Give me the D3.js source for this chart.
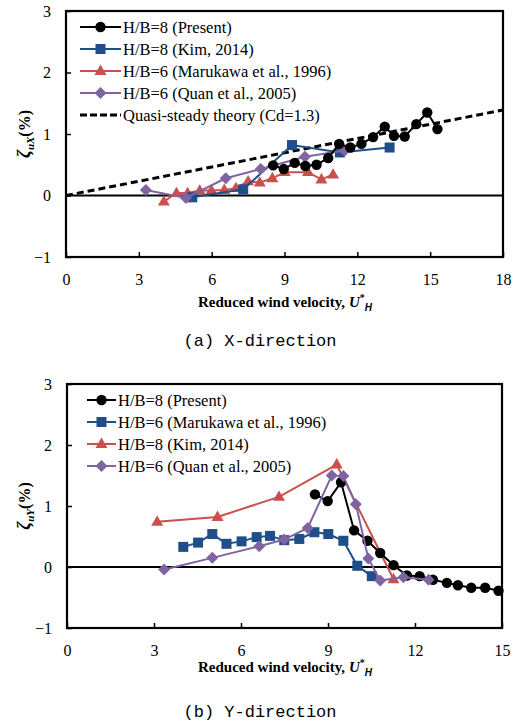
<!DOCTYPE html>
<html><head><meta charset="utf-8">
<script src="https://cdn.jsdelivr.net/npm/d3@7"></script>
<style>body{margin:0;background:#fff}svg{display:block}</style>
</head><body>
<svg id="c" width="520" height="725"></svg>
<script>
// ---------- DATA ----------
// Panel (a) X-direction
const xTicksA = [0,3,6,9,12,15,18];
const yTicks = [-1,0,1,2,3];
const aPresentX = [8.53,8.97,9.42,9.86,10.32,10.80,11.25,11.71,12.17,12.65,13.13,13.51,13.95,14.43,14.88,15.30];
const aPresentY = [0.49,0.43,0.53,0.48,0.50,0.61,0.84,0.78,0.84,0.95,1.12,0.97,0.96,1.16,1.35,1.08];
const aKimX = [5.20,7.30,9.31,11.28,13.33];
const aKimY = [-0.03,0.10,0.82,0.70,0.78];
const aMaruX = [4.03,4.55,5.01,5.51,5.99,6.52,7.00,7.50,7.98,8.50,9.01,9.97,10.52,11.00];
const aMaruY = [-0.10,0.04,0.04,0.08,0.08,0.09,0.12,0.23,0.21,0.28,0.38,0.38,0.26,0.34];
const aQuanX = [3.29,4.94,6.58,8.02,9.84,11.48];
const aQuanY = [0.09,-0.04,0.28,0.43,0.63,0.73];
const aQuasiX = [0,18];
const aQuasiY = [0,1.39];
// Panel (b) Y-direction
const xTicksB = [0,3,6,9,12,15];
const bPresentX = [8.55,8.99,9.45,9.90,10.36,10.80,11.26,11.72,12.16,12.62,13.10,13.48,13.94,14.42,14.88];
const bPresentY = [1.19,1.08,1.39,0.60,0.43,0.23,0.03,-0.14,-0.15,-0.21,-0.26,-0.30,-0.34,-0.34,-0.39];
const bMaruX = [4.01,4.52,5.01,5.50,6.02,6.54,7.00,7.49,8.01,8.53,9.01,9.53,10.01,10.51];
const bMaruY = [0.33,0.40,0.54,0.38,0.42,0.49,0.51,0.44,0.46,0.57,0.54,0.43,0.02,-0.15];
const bKimX = [3.11,5.19,7.31,9.30,11.26];
const bKimY = [0.74,0.82,1.15,1.68,-0.20];
const bQuanX = [3.35,5.01,6.63,7.49,8.30,9.13,9.53,9.96,10.39,10.80,11.60,12.47];
const bQuanY = [-0.04,0.15,0.34,0.45,0.64,1.50,1.49,1.03,0.14,-0.22,-0.17,-0.21];

const legendA = ["H/B=8 (Present)","H/B=8 (Kim, 2014)","H/B=6 (Marukawa et al., 1996)","H/B=6 (Quan et al., 2005)","Quasi-steady theory (Cd=1.3)"];
const legendB = ["H/B=8 (Present)","H/B=6 (Marukawa et al., 1996)","H/B=8 (Kim, 2014)","H/B=6 (Quan et al., 2005)"];

// ---------- STYLE ----------
const C = {black:"#000000", blue:"#1F4E8A", red:"#C9504D", purple:"#8064A2"};
const serif = "Liberation Serif, Times New Roman, serif";
const svg = d3.select("#c");

function zip(xs,ys){return xs.map((x,i)=>[x,ys[i]]);}

function marker(g, type, x, y, color){
  if(type==="circle"){ g.append("circle").attr("cx",x).attr("cy",y).attr("r",5.2).attr("fill",color); }
  else if(type==="square"){ g.append("rect").attr("x",x-5).attr("y",y-5).attr("width",10).attr("height",10).attr("fill",color); }
  else if(type==="triangle"){ g.append("path").attr("d",d3.symbol(d3.symbolTriangle,62)()).attr("transform",`translate(${x},${y+0.5})`).attr("fill",color); }
  else if(type==="diamond"){ g.append("path").attr("d",`M0,-6L6,0L0,6L-6,0Z`).attr("transform",`translate(${x},${y})`).attr("fill",color); }
}

function panel(cfg){
  const x = d3.scaleLinear().domain(cfg.xdom).range(cfg.xr);
  const y = d3.scaleLinear().domain([-1,3]).range(cfg.yr);
  const g = svg.append("g");
  const ax = g.append("g").attr("transform",`translate(0,${cfg.yr[0]})`)
    .call(d3.axisBottom(x).tickValues(cfg.xticks).tickSize(-5).tickPadding(17).tickFormat(d3.format("d")));
  ax.attr("font-family",serif).attr("font-size",16);
  ax.select(".domain").remove();
  ax.selectAll("line").attr("stroke","#000").attr("stroke-width",1.5);
  ax.selectAll("text").style("font-family",serif).attr("font-size",16).attr("fill","#000");
  const ay = g.append("g").attr("transform",`translate(${cfg.xr[0]},0)`)
    .call(d3.axisLeft(y).tickValues(yTicks).tickSize(-5).tickPadding(15).tickFormat(d3.format("d")));
  ay.attr("font-family",serif).attr("font-size",16);
  ay.select(".domain").remove();
  ay.selectAll("line").attr("stroke","#000").attr("stroke-width",1.5);
  ay.selectAll("text").style("font-family",serif).attr("font-size",16).attr("fill","#000");
  g.append("line").attr("x1",cfg.xr[0]).attr("x2",cfg.xr[1]).attr("y1",y(0)).attr("y2",y(0)).attr("stroke","#000").attr("stroke-width",2);
  g.append("rect").attr("x",cfg.xr[0]).attr("y",cfg.yr[1]).attr("width",cfg.xr[1]-cfg.xr[0]).attr("height",cfg.yr[0]-cfg.yr[1])
    .attr("fill","none").attr("stroke","#000").attr("stroke-width",2.2);
  const line = d3.line().x(d=>x(d[0])).y(d=>y(d[1]));
  cfg.series.forEach(s=>{
    const pts = zip(s.xs,s.ys);
    g.append("path").attr("d",line(pts)).attr("fill","none").attr("stroke",s.color)
      .attr("stroke-width",s.dash?3:2).attr("stroke-dasharray",s.dash?"7,4":null);
    if(s.type) pts.forEach(p=>marker(g,s.type,x(p[0]),y(p[1]),s.color));
  });
  const lg = g.append("g");
  cfg.legend.forEach((name,i)=>{
    const s = cfg.legendSeries[i];
    const ly = cfg.leg.y0 + i*cfg.leg.dy;
    lg.append("line").attr("x1",cfg.leg.x1).attr("x2",cfg.leg.x2).attr("y1",ly).attr("y2",ly)
      .attr("stroke",s.color).attr("stroke-width",s.dash?3:2).attr("stroke-dasharray",s.dash?"7,3":null);
    if(s.type) marker(lg,s.type,(cfg.leg.x1+cfg.leg.x2)/2,ly,s.color);
    lg.append("text").attr("x",cfg.leg.x2+2).attr("y",ly+5.5).style("font-family",serif).attr("font-size",16.5).attr("fill","#000").text(name);
  });
  const xt = g.append("text").attr("x",cfg.titleX).attr("y",cfg.titleY).attr("text-anchor","middle")
    .style("font-family",serif).attr("font-size",15).attr("font-weight","bold").attr("fill","#000");
  xt.append("tspan").text("Reduced wind velocity, ");
  xt.append("tspan").attr("font-style","italic").text("U");
  xt.append("tspan").attr("font-size",10).attr("dy",-6).text("*");
  xt.append("tspan").attr("font-size",10).attr("dy",10).attr("font-style","italic").style("font-family","Liberation Sans, Arial, sans-serif").text("H");
  const yc = (cfg.yr[0]+cfg.yr[1])/2;
  const yt = g.append("text").attr("transform",`translate(30,${yc}) rotate(-90)`).attr("text-anchor","middle")
    .style("font-family",serif).attr("font-size",16).attr("font-weight","bold").attr("fill","#000");
  yt.append("tspan").attr("font-style","italic").attr("font-size",18).text("ζ");
  yt.append("tspan").attr("font-style","italic").attr("font-size",11).attr("dy",4).text(cfg.ysub);
  yt.append("tspan").attr("dy",-4).text("(%)");
  svg.append("text").attr("x",cfg.capX).attr("y",cfg.capY).attr("text-anchor","middle")
    .style("font-family","Liberation Mono, DejaVu Sans Mono, monospace").attr("font-size",17).attr("fill","#000").text(cfg.caption);
}

const sA = {
  present:{xs:aPresentX,ys:aPresentY,color:C.black,type:"circle"},
  kim:{xs:aKimX,ys:aKimY,color:C.blue,type:"square"},
  maru:{xs:aMaruX,ys:aMaruY,color:C.red,type:"triangle"},
  quan:{xs:aQuanX,ys:aQuanY,color:C.purple,type:"diamond"},
  quasi:{xs:aQuasiX,ys:aQuasiY,color:C.black,type:null,dash:true}
};
panel({
  xdom:[0,18], xr:[66,503], yr:[257,11], xticks:xTicksA,
  series:[sA.quasi,sA.maru,sA.kim,sA.quan,sA.present],
  legend:legendA, legendSeries:[sA.present,sA.kim,sA.maru,sA.quan,sA.quasi],
  leg:{x1:80,x2:121,y0:27,dy:22},
  titleX:285, titleY:307, ysub:"uX", caption:"(a) X-direction", capX:260, capY:346
});
const sB = {
  present:{xs:bPresentX,ys:bPresentY,color:C.black,type:"circle"},
  maru:{xs:bMaruX,ys:bMaruY,color:C.blue,type:"square"},
  kim:{xs:bKimX,ys:bKimY,color:C.red,type:"triangle"},
  quan:{xs:bQuanX,ys:bQuanY,color:C.purple,type:"diamond"}
};
panel({
  xdom:[0,15], xr:[67,502], yr:[628,384], xticks:xTicksB,
  series:[sB.kim,sB.maru,sB.present,sB.quan],
  legend:legendB, legendSeries:[sB.present,sB.maru,sB.kim,sB.quan],
  leg:{x1:87,x2:116,y0:400,dy:22},
  titleX:285, titleY:672, ysub:"uY", caption:"(b) Y-direction", capX:260, capY:717
});
</script>
</body></html>
